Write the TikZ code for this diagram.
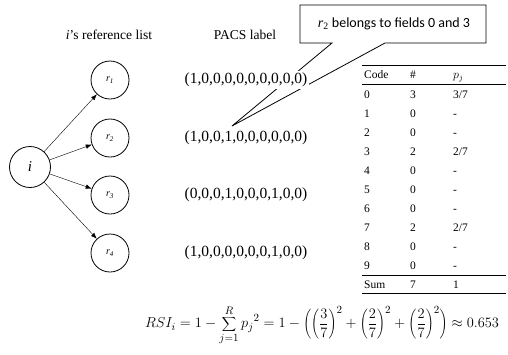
\documentclass[tikz,border=0pt]{standalone}
\usepackage{fontspec}
\setmainfont{Liberation Serif}
\newfontfamily\calibri{Carlito}
\usetikzlibrary{arrows.meta}

\begin{document}
\begin{tikzpicture}[x=1pt,y=-1pt,
  circ/.style={circle,draw,line width=0.8pt,minimum size=38pt,inner sep=0pt,
    font=\fontsize{10}{12}\selectfont\itshape},
  link/.style={-{Latex[length=6pt,width=4.5pt]},line width=0.4pt},
  vec/.style={fill=white,inner sep=1.5pt,font=\fontsize{15.5}{18}\selectfont},
  head/.style={font=\fontsize{13.5}{16}\selectfont},
  cell/.style={font=\fontsize{11.5}{13}\selectfont,anchor=base west,inner sep=0pt},
  rule/.style={line width=0.9pt},
  thinrule/.style={line width=0.5pt},
]
\useasboundingbox (0,0) rectangle (508,354);

% column headings
\node[head] (tlist) at (109,35) {\textit{i}'s reference list};
\node[head] (tpacs) at (245,35) {PACS label};

% citing paper and its references
\node[circ,minimum size=41pt,font=\fontsize{15}{18}\selectfont\itshape] (i) at (30,167) {i};
\node[circ] (r1) at (110,80)  {r\textsubscript{1}};
\node[circ] (r2) at (110,138) {r\textsubscript{2}};
\node[circ] (r3) at (110,195) {r\textsubscript{3}};
\node[circ] (r4) at (110,253) {r\textsubscript{4}};
\foreach \k in {1,...,4} \draw[link] (i) -- (r\k);

% callout
\node[font=\calibri\fontsize{14}{16}\selectfont] (note) at (394,24)
  {{\fontspec{Liberation Serif}\itshape r}\textsubscript{\fontspec{Liberation Serif}2} belongs to fields 0 and 3};
\coordinate (tip) at (232,126);
\draw[line width=0.8pt] (332,43) -- (300,43) -- (300,5) -- (486,5) -- (486,43) -- (385,43) -- (tip) -- cycle;

% PACS vectors
\node[vec] (v1) at (246,80)  {(1,0,0,0,0,0,0,0,0,0)};
\node[vec] (v2) at (246,138) {(1,0,0,1,0,0,0,0,0,0)};
\node[vec] (v3) at (246,195) {(0,0,0,1,0,0,0,1,0,0)};
\node[vec] (v4) at (246,253) {(1,0,0,0,0,0,0,1,0,0)};

% field counts
\draw[rule] (362,65) -- (506,65);
\node[cell] (hc) at (364,78.5) {Code};
\node[cell] (hn) at (410,78.5) {\#};
\node[cell] (hp) at (453,78.5) {$p_j$};
\draw[thinrule] (362,84) -- (506,84);
\foreach \c/\n/\p [count=\k from 0] in
  {0/3/{3/7},1/0/-,2/0/-,3/2/{2/7},4/0/-,5/0/-,6/0/-,7/2/{2/7},8/0/-,9/0/-}{
  \node[cell] (c\k) at (364,98+19*\k) {\c};
  \node[cell] (n\k) at (410,98+19*\k) {\n};
  \node[cell] (p\k) at (453,98+19*\k) {\p};
}
\draw[rule] (362,275) -- (506,275);
\node[cell] (sc) at (364,288) {Sum};
\node[cell] (sn) at (410,288) {7};
\node[cell] (sp) at (453,288) {1};
\draw[rule] (362,293) -- (506,293);

% diversity index
\node[font=\fontsize{15}{18}\selectfont] (rsi) at (322,325)
  {$\displaystyle RSI_i = 1-\sum_{j=1}^{R}{p_j}^2 = 1-\Biggl(\left(\frac{3}{7}\right)^{2}+\left(\frac{2}{7}\right)^{2}+\left(\frac{2}{7}\right)^{2}\Biggr)\approx 0.653$};
\end{tikzpicture}
\end{document}
